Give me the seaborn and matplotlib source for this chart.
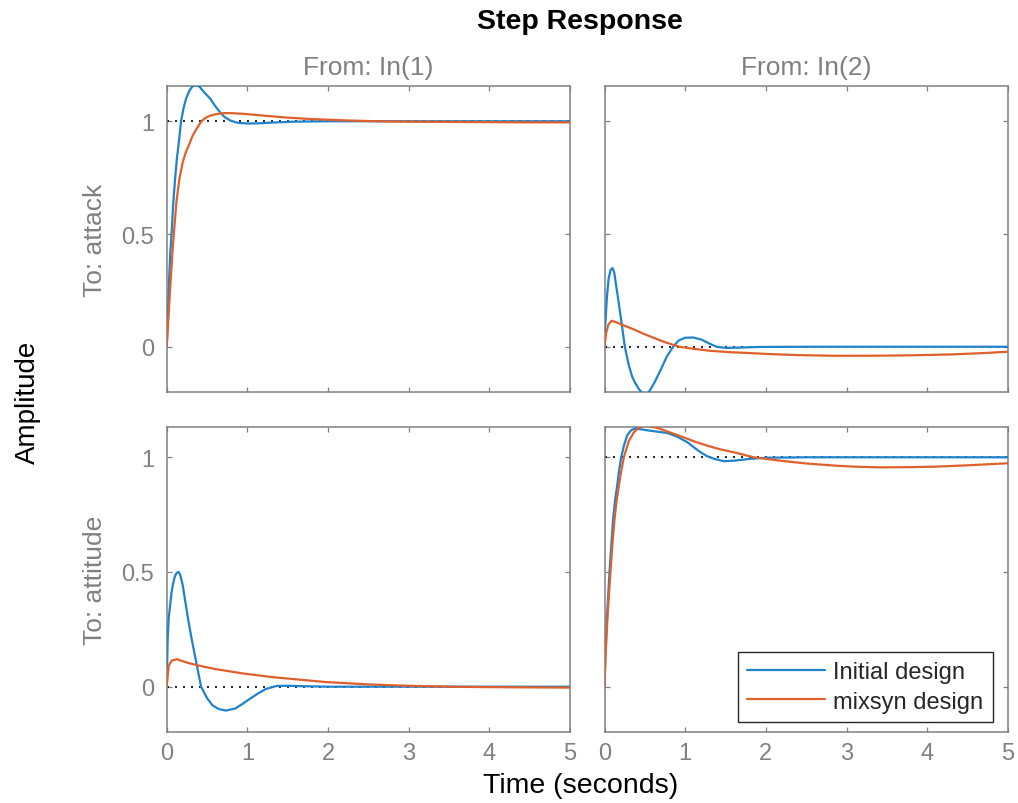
import numpy as np
import pandas as pd
import matplotlib
matplotlib.use("Agg")
import matplotlib.pyplot as plt
import seaborn as sns

# ---------------- data ----------------
designs = ["Initial design", "mixsyn design"]
x_ticks = [0, 1, 2, 3, 4, 5]
row_names = ["To: attack", "To: attitude"]
col_names = ["From: In(1)", "From: In(2)"]
steady = [[1, 0], [0, 1]]

# attack <- In(1)
t_att_in1_init = [0, 0.015, 0.03, 0.045, 0.062, 0.08, 0.103, 0.125, 0.145, 0.178, 0.21, 0.24, 0.28,
                  0.32, 0.364, 0.41, 0.46, 0.50, 0.54, 0.60, 0.66, 0.72, 0.79, 0.87, 0.95, 1.03, 1.15,
                  1.30, 1.57, 2.0, 3.0, 5.0]
y_att_in1_init = [0, 0.12, 0.30, 0.42, 0.51, 0.63, 0.74, 0.83, 0.89, 1.00, 1.06, 1.10, 1.135,
                  1.155, 1.161, 1.152, 1.13, 1.115, 1.10, 1.068, 1.04, 1.018, 1.003, 0.994, 0.991, 0.990, 0.991,
                  0.994, 0.998, 1.0, 1.0, 1.0]
t_att_in1_mix = [0, 0.02, 0.05, 0.07, 0.09, 0.12, 0.157, 0.20, 0.235, 0.27, 0.32, 0.37, 0.43, 0.48,
                 0.54, 0.62, 0.70, 0.80, 0.95, 1.2, 1.5, 1.78, 2.2, 2.6, 3.0, 3.5, 4.0, 4.5, 5.0]
y_att_in1_mix = [0, 0.12, 0.30, 0.41, 0.507, 0.64, 0.744, 0.82, 0.86, 0.89, 0.935, 0.966, 1.0, 1.015,
                 1.025, 1.032, 1.036, 1.036, 1.033, 1.025, 1.016, 1.010, 1.004, 1.0, 0.998, 0.997, 0.996, 0.995, 0.995]

# attack <- In(2)
t_att_in2_init = [0, 0.01, 0.03, 0.05, 0.075, 0.099, 0.12, 0.145, 0.17, 0.21, 0.252, 0.30, 0.34, 0.376,
                  0.43, 0.465, 0.50, 0.535, 0.56, 0.62, 0.70, 0.77, 0.85, 0.92, 1.00, 1.10, 1.20, 1.30,
                  1.39, 1.50, 1.65, 1.9, 2.5, 5.0]
y_att_in2_init = [0, 0.10, 0.22, 0.30, 0.34, 0.349, 0.33, 0.27, 0.21, 0.11, 0.0, -0.08, -0.13, -0.158,
                  -0.19, -0.203, -0.21, -0.206, -0.195, -0.158, -0.10, -0.045, 0.0, 0.028, 0.040, 0.041,
                  0.032, 0.014, 0.0, -0.005, -0.004, -0.001, 0.0, 0.0]
t_att_in2_mix = [0, 0.02, 0.05, 0.087, 0.15, 0.25, 0.356, 0.48, 0.60, 0.75, 0.93, 1.1, 1.31, 1.55,
                 1.80, 2.02, 2.4, 2.84, 3.3, 3.8, 4.3, 4.7, 5.0]
y_att_in2_mix = [0, 0.06, 0.10, 0.115, 0.108, 0.093, 0.078, 0.058, 0.041, 0.02, 0.0, -0.009, -0.018, -0.024,
                 -0.028, -0.032, -0.037, -0.040, -0.040, -0.038, -0.034, -0.028, -0.022]

# attitude <- In(1)
t_att1_in1_init = [0, 0.012, 0.025, 0.041, 0.06, 0.08, 0.10, 0.125, 0.149, 0.17, 0.20, 0.24, 0.27, 0.31,
                   0.37, 0.426, 0.50, 0.57, 0.65, 0.736, 0.85, 0.94, 1.03, 1.13, 1.23, 1.36, 1.48, 1.7,
                   2.0, 5.0]
y_att1_in1_init = [0, 0.207, 0.30, 0.35, 0.41, 0.45, 0.48, 0.497, 0.50, 0.485, 0.44, 0.35, 0.285, 0.207,
                   0.10, 0.0, -0.05, -0.082, -0.098, -0.104, -0.095, -0.075, -0.053, -0.03, -0.01, 0.003,
                   0.004, 0.002, 0.0, 0.0]
t_att1_in1_mix = [0, 0.025, 0.06, 0.124, 0.25, 0.41, 0.6, 0.94, 1.3, 1.73, 1.98, 2.5, 2.99, 3.5, 4.0, 5.0]
y_att1_in1_mix = [0, 0.091, 0.113, 0.12, 0.105, 0.091, 0.077, 0.058, 0.042, 0.028, 0.02, 0.01, 0.004, 0.0,
                  -0.002, -0.004]

# attitude <- In(2)
t_att1_in2_init = [0, 0.012, 0.035, 0.062, 0.085, 0.107, 0.13, 0.157, 0.18, 0.207, 0.24, 0.28, 0.33, 0.385,
                   0.45, 0.56, 0.67, 0.78, 0.9, 1.03, 1.12, 1.19, 1.27, 1.36, 1.48, 1.6, 1.80, 2.0, 2.5, 5.0]
y_att1_in2_init = [0, 0.15, 0.33, 0.50, 0.62, 0.73, 0.81, 0.876, 0.94, 1.0, 1.05, 1.095, 1.118, 1.126,
                   1.122, 1.116, 1.111, 1.106, 1.09, 1.065, 1.04, 1.022, 1.005, 0.993, 0.983, 0.985, 0.993,
                   0.998, 1.0, 1.0]
t_att1_in2_mix = [0, 0.012, 0.04, 0.074, 0.10, 0.124, 0.15, 0.178, 0.21, 0.24, 0.30, 0.364, 0.43, 0.50,
                  0.59, 0.69, 0.83, 0.98, 1.12, 1.27, 1.43, 1.60, 1.85, 2.18, 2.5, 2.84, 3.1, 3.42, 3.8,
                  4.09, 4.5, 5.0]
y_att1_in2_mix = [0, 0.13, 0.32, 0.50, 0.63, 0.73, 0.81, 0.876, 0.945, 1.0, 1.07, 1.109, 1.13, 1.138,
                  1.133, 1.124, 1.106, 1.087, 1.068, 1.051, 1.035, 1.022, 1.0, 0.985, 0.973, 0.964, 0.959,
                  0.956, 0.957, 0.959, 0.965, 0.974]

panels = [
    [(t_att_in1_init, y_att_in1_init, t_att_in1_mix, y_att_in1_mix),
     (t_att_in2_init, y_att_in2_init, t_att_in2_mix, y_att_in2_mix)],
    [(t_att1_in1_init, y_att1_in1_init, t_att1_in1_mix, y_att1_in1_mix),
     (t_att1_in2_init, y_att1_in2_init, t_att1_in2_mix, y_att1_in2_mix)],
]

# ---------------- style ----------------
sns.set_style("white")
plt.rcParams["font.family"] = ["Liberation Sans", "DejaVu Sans"]

blue = "#1f83cc"
orange = "#e0602c"
gray = "#808080"
palette = {designs[0]: blue, designs[1]: orange}

W, H = 1018, 804
fig = plt.figure(figsize=(W / 100, H / 100), dpi=100)

col_px = [(166.7, 570.0), (604.5, 1008.0)]
row_px = [(87.3, 393.3), (428.0, 733.0)]
ylims = [(-0.202, 1.155), (-0.1975, 1.132)]

axes = [[None, None], [None, None]]
for r in range(2):
    for c in range(2):
        x0, x1 = col_px[c]
        y0, y1 = row_px[r]
        ax = fig.add_axes([x0 / W, 1 - y1 / H, (x1 - x0) / W, (y1 - y0) / H])
        axes[r][c] = ax
        ti, yi, tm, ym = panels[r][c]
        df = pd.DataFrame({
            "t": list(ti) + list(tm),
            "amp": list(yi) + list(ym),
            "design": [designs[0]] * len(ti) + [designs[1]] * len(tm),
        })
        ax.axhline(steady[r][c], color="black", lw=1.2, linestyle=(0, (1.2, 3.6)), zorder=1)
        sns.lineplot(data=df, x="t", y="amp", hue="design", hue_order=designs,
                     palette=palette, estimator=None, sort=False, lw=1.6,
                     ax=ax, legend=(r == 1 and c == 1), zorder=3)
        ax.set_xlim(0, 5)
        ax.set_ylim(*ylims[r])
        ax.set_xticks(x_ticks)
        ax.set_yticks([0, 0.5, 1])
        ax.set_yticklabels(["0", "0.5", "1"])
        ax.set_xlabel("")
        ax.set_ylabel("")
        for s in ax.spines.values():
            s.set_visible(True)
            s.set_color(gray)
            s.set_linewidth(1.1)
        ax.tick_params(direction="in", length=3.5, width=0.9, color=gray,
                       top=True, right=True, bottom=True, left=True,
                       labelsize=17, labelcolor=gray)
        ax.tick_params(axis="y", pad=9)
        ax.tick_params(axis="x", pad=7)
        if r == 0:
            ax.tick_params(labelbottom=False)
        if c == 1:
            ax.tick_params(labelleft=False)

# legend in bottom-right
axl = axes[1][1]
handles, labels = axl.get_legend_handles_labels()
leg = axl.legend(handles, labels, loc="lower right",
                 bbox_to_anchor=((993 - 604.5) / 403.5, (733 - 723) / 305.0),
                 borderaxespad=0, fontsize=17, frameon=True, fancybox=False,
                 edgecolor="#262626", framealpha=1, handlelength=3.3,
                 handletextpad=0.35, labelspacing=0.3, borderpad=0.4)
leg.get_frame().set_linewidth(1.0)
for txt in leg.get_texts():
    txt.set_color("#262626")
for ln in leg.get_lines():
    ln.set_linewidth(1.6)

# texts
fig.text(580 / W, 1 - 22 / H, "Step Response", ha="center", va="center",
         fontsize=20.5, fontweight="bold", color="black")
for c in range(2):
    xc = (col_px[c][0] + col_px[c][1]) / 2
    fig.text(xc / W, 1 - 68 / H, col_names[c], ha="center", va="center",
             fontsize=19, color=gray)
for r in range(2):
    yc = (row_px[r][0] + row_px[r][1]) / 2
    fig.text(95 / W, 1 - yc / H, row_names[r], ha="center", va="center",
             rotation=90, fontsize=19, color=gray)
fig.text(28 / W, 1 - 402 / H, "Amplitude", ha="center", va="center",
         rotation=90, fontsize=20, color="black")
fig.text(581 / W, 1 - 786 / H, "Time (seconds)", ha="center", va="center",
         fontsize=20.5, color="black")

fig.savefig("out.png", dpi=100)
